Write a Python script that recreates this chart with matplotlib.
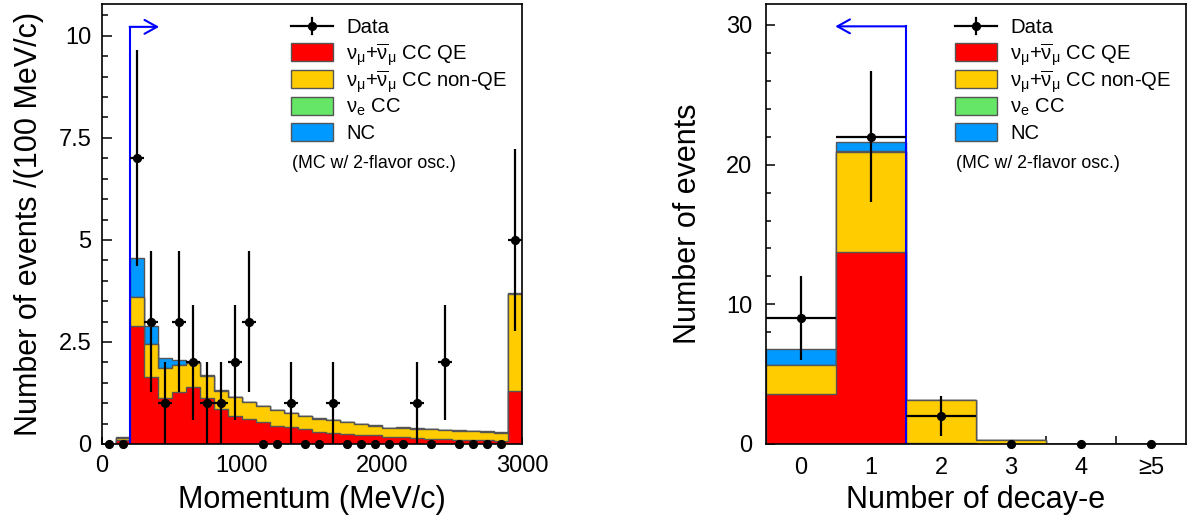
import numpy as np
import matplotlib
matplotlib.use("Agg")
import matplotlib.pyplot as plt
from matplotlib.patches import Rectangle
from matplotlib.lines import Line2D
from matplotlib.ticker import MultipleLocator, FixedLocator, FixedFormatter

plt.rcParams["font.family"] = ["Liberation Sans", "DejaVu Sans"]
plt.rcParams["mathtext.fontset"] = "custom"
plt.rcParams["mathtext.rm"] = "Liberation Sans"
plt.rcParams["mathtext.it"] = "Liberation Sans:italic"
plt.rcParams["mathtext.default"] = "regular"

# ---------------- momentum distribution (100 MeV/c bins, 0-3000) ----------------
mom_edges = np.arange(0, 3001, 100)
mom_data = [0, 0, 7, 3, 1, 3, 2, 1, 1, 2, 3, 0, 0, 1, 0,
            0, 1, 0, 0, 0, 0, 0, 1, 0, 2, 0, 0, 0, 0, 5]
mom_ccqe = [0.00, 0.11, 2.90, 1.65, 1.12, 1.27, 1.39, 1.12, 0.86, 0.69,
            0.62, 0.55, 0.45, 0.41, 0.36, 0.30, 0.27, 0.25, 0.22, 0.21,
            0.17, 0.16, 0.14, 0.13, 0.12, 0.11, 0.10, 0.09, 0.07, 1.29]
mom_ccnonqe = [0.00, 0.03, 0.71, 0.79, 0.73, 0.66, 0.59, 0.55, 0.45, 0.45,
               0.40, 0.38, 0.38, 0.34, 0.32, 0.32, 0.31, 0.29, 0.26, 0.24,
               0.21, 0.24, 0.23, 0.23, 0.23, 0.22, 0.22, 0.21, 0.21, 2.39]
mom_nue = [0.00] * 30
mom_nc = [0.00, 0.04, 0.94, 0.46, 0.26, 0.13, 0.04, 0.02, 0.01, 0.01,
          0.01, 0.01, 0.01, 0.01, 0.01, 0.01, 0.01, 0.01, 0.01, 0.01,
          0.01, 0.01, 0.01, 0.01, 0.00, 0.01, 0.00, 0.01, 0.01, 0.01]

# ---------------- number of decay electrons ----------------
ne_edges = np.arange(-0.5, 6.0, 1.0)
ne_labels = ["0", "1", "2", "3", "4", "\u22655"]
ne_data = [9, 22, 2, 0, 0, 0]
ne_ccqe = [3.58, 13.74, 0.08, 0.03, 0.00, 0.00]
ne_ccnonqe = [2.07, 7.16, 3.07, 0.27, 0.02, 0.00]
ne_nue = [0.02, 0.05, 0.00, 0.00, 0.00, 0.00]
ne_nc = [1.15, 0.65, 0.02, 0.00, 0.00, 0.00]

# selection cuts
mom_cut = 200.0
mom_arrow_end = 410.0
ne_cut = 1.5
ne_arrow_end = 0.49

COL_QE = "#ff0000"
COL_NONQE = "#ffcc00"
COL_NUE = "#66e666"
COL_NC = "#0099ff"
EDGE = "#555555"

TICK_FS = 17.0
LABEL_FS = 22.0
LEG_FS = 14.6
NOTE_FS = 12.8

legend_labels = [
    r"$\nu_{\mu}$+$\overline{\nu}_{\mu}$ CC QE",
    r"$\nu_{\mu}$+$\overline{\nu}_{\mu}$ CC non-QE",
    r"$\nu_{e}$ CC",
    "NC",
]
legend_colors = [COL_QE, COL_NONQE, COL_NUE, COL_NC]

fig = plt.figure(figsize=(12.0, 5.23), dpi=100)
ax1 = fig.add_axes([101.7 / 1200, 79 / 523, 420.3 / 1200, 440 / 523])
ax2 = fig.add_axes([766 / 1200, 79 / 523, 420 / 1200, 440 / 523])


def draw_stack(ax, edges, comps):
    # cumulative stack drawn from the top component down, each filled from zero
    cum = np.cumsum(np.array(comps, dtype=float), axis=0)
    colors = [COL_QE, COL_NONQE, COL_NUE, COL_NC]
    for level in range(len(comps) - 1, -1, -1):
        ax.stairs(cum[level], edges, baseline=0, fill=True,
                  facecolor=colors[level], edgecolor=EDGE, linewidth=1.0,
                  zorder=2 + (3 - level) * 0.1)


def draw_data(ax, edges, counts, xhalf):
    counts = np.array(counts, dtype=float)
    centers = 0.5 * (edges[:-1] + edges[1:])
    nz = counts > 0
    ax.errorbar(centers[nz], counts[nz], yerr=np.sqrt(counts[nz]),
                xerr=xhalf, fmt="none", ecolor="black", elinewidth=1.6,
                capsize=0, zorder=5)
    ax.plot(centers, counts, "o", color="black", markersize=5.6,
            linestyle="none", clip_on=False, zorder=6)


def draw_legend(ax):
    tr = ax.transAxes
    bx0, bx1 = 0.450, 0.550
    tx = 0.581
    rows = [0.950, 0.890, 0.829, 0.769, 0.709]
    bh = 0.041
    cap_off = 0.0165
    # data entry
    y = rows[0]
    ax.add_line(Line2D([bx0, bx1], [y, y], transform=tr, color="black",
                       lw=1.6, clip_on=False, zorder=7))
    ax.add_line(Line2D([0.5 * (bx0 + bx1)] * 2, [y - 0.018, y + 0.018],
                       transform=tr, color="black", lw=1.6, clip_on=False, zorder=7))
    ax.add_line(Line2D([0.5 * (bx0 + bx1)], [y], transform=tr, marker="o",
                       markersize=5.6, color="black", linestyle="none",
                       clip_on=False, zorder=7))
    ax.text(tx, y - cap_off, "Data", transform=tr, fontsize=LEG_FS,
            va="baseline", ha="left", zorder=7)
    for y, lab, col in zip(rows[1:], legend_labels, legend_colors):
        ax.add_patch(Rectangle((bx0, y - bh / 2), bx1 - bx0, bh, transform=tr,
                               facecolor=col, edgecolor=EDGE, lw=1.0,
                               clip_on=False, zorder=7))
        ax.text(tx, y - cap_off, lab, transform=tr, fontsize=LEG_FS,
                va="baseline", ha="left", zorder=7)
    ax.text(0.452, 0.638, "(MC w/ 2-flavor osc.)", transform=tr,
            fontsize=NOTE_FS, va="center", ha="left", zorder=7)


def style_axes(ax):
    for s in ax.spines.values():
        s.set_linewidth(1.2)
        s.set_zorder(8)
    ax.tick_params(which="both", direction="in", top=False, right=False,
                   width=1.1, labelsize=TICK_FS, zorder=8)


# ---------------- left panel ----------------
draw_stack(ax1, mom_edges, [mom_ccqe, mom_ccnonqe, mom_nue, mom_nc])
draw_data(ax1, mom_edges, mom_data, 50)
ax1.plot([mom_cut, mom_cut], [0, 10.22], color="blue", lw=1.5, zorder=4)
ax1.annotate("", xy=(mom_arrow_end, 10.22), xytext=(mom_cut - 0.5, 10.22),
             arrowprops=dict(arrowstyle="->,head_length=9,head_width=5",
                             mutation_scale=1, color="blue", lw=1.5,
                             shrinkA=0, shrinkB=0), zorder=4)
ax1.set_xlim(0, 3000)
ax1.set_ylim(0, 10.78)
ax1.xaxis.set_major_locator(MultipleLocator(1000))
ax1.xaxis.set_minor_locator(MultipleLocator(250))
ax1.yaxis.set_major_locator(FixedLocator([0, 2.5, 5, 7.5, 10]))
ax1.yaxis.set_major_formatter(FixedFormatter(["0", "2.5", "5", "7.5", "10"]))
ax1.yaxis.set_minor_locator(MultipleLocator(0.5))
style_axes(ax1)
ax1.tick_params(axis="y", which="major", length=7.2, pad=7.5)
ax1.tick_params(axis="y", which="minor", length=4.3)
ax1.tick_params(axis="x", which="major", length=5.0, pad=8.0)
ax1.tick_params(axis="x", which="minor", length=2.6)
ax1.set_xlabel("Momentum (MeV/c)", fontsize=LABEL_FS, va="center")
ax1.xaxis.set_label_coords(0.5, -0.127)
ax1.set_ylabel("Number of events /(100 MeV/c)", fontsize=LABEL_FS, va="center")
ax1.yaxis.set_label_coords(-0.174, 0.5)
draw_legend(ax1)

# ---------------- right panel ----------------
draw_stack(ax2, ne_edges, [ne_ccqe, ne_ccnonqe, ne_nue, ne_nc])
draw_data(ax2, ne_edges, ne_data, 0.5)
ax2.plot([ne_cut, ne_cut], [0, 29.9], color="blue", lw=1.5, zorder=4)
ax2.annotate("", xy=(ne_arrow_end, 29.9), xytext=(ne_cut + 0.002, 29.9),
             arrowprops=dict(arrowstyle="->,head_length=9,head_width=5",
                             mutation_scale=1, color="blue", lw=1.5,
                             shrinkA=0, shrinkB=0), zorder=4)
ax2.set_xlim(-0.5, 5.5)
ax2.set_ylim(0, 31.5)
ax2.xaxis.set_major_locator(FixedLocator(range(6)))
ax2.xaxis.set_major_formatter(FixedFormatter(ne_labels))
ax2.xaxis.set_minor_locator(FixedLocator(ne_edges[1:-1]))
ax2.yaxis.set_major_locator(MultipleLocator(10))
ax2.yaxis.set_minor_locator(MultipleLocator(2))
style_axes(ax2)
ax2.tick_params(axis="x", which="major", length=0, pad=9.0)
ax2.tick_params(axis="x", which="minor", length=5.8)
ax2.tick_params(axis="y", which="major", length=6.5, pad=10)
ax2.tick_params(axis="y", which="minor", length=3.6)
ax2.set_xlabel("Number of decay-e", fontsize=LABEL_FS, va="center")
ax2.xaxis.set_label_coords(0.5, -0.127)
ax2.set_ylabel("Number of events", fontsize=LABEL_FS, va="center")
ax2.yaxis.set_label_coords(-0.186, 0.5)
draw_legend(ax2)

fig.savefig("out.png", dpi=100)
